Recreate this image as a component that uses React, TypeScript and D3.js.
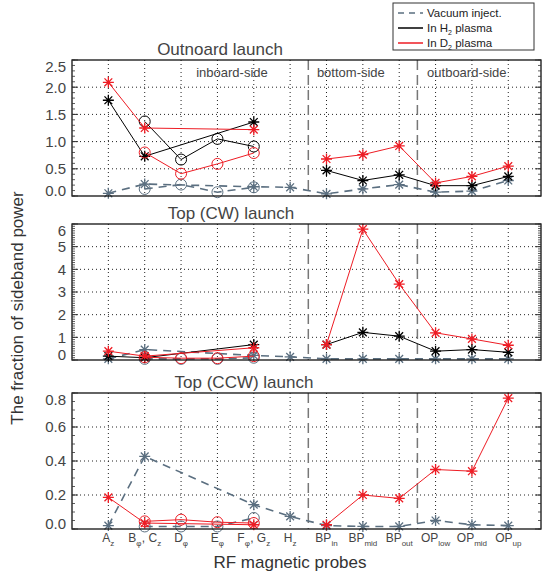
import React, { useRef, useEffect } from 'react'
import * as d3 from 'd3'

// probe labels: [base, subscript] pieces
const probeLabels: [string, string][][] = [
  [['A', 'z']],
  [['B', 'φ'], [', C', 'z']],
  [['D', 'φ']],
  [['E', 'φ']],
  [['F', 'φ'], [', G', 'z']],
  [['H', 'z']],
  [['BP', 'in']],
  [['BP', 'mid']],
  [['BP', 'out']],
  [['OP', 'low']],
  [['OP', 'mid']],
  [['OP', 'up']],
]

// Outboard launch
const outVacStar = [0.05, 0.22, null, null, 0.17, 0.16, 0.04, 0.13, 0.21, 0.07, 0.09, 0.285]
const outVacCirc = [null, 0.13, 0.21, 0.07, 0.16, null, null, null, null, null, null, null]
const outH2Star = [1.76, 0.73, null, null, 1.36, null, 0.47, 0.285, 0.39, 0.19, 0.19, 0.36]
const outH2Circ = [null, 1.37, 0.67, 1.05, 0.91, null, null, null, null, null, null, null]
const outD2Star = [2.09, 1.25, null, null, 1.22, null, 0.68, 0.76, 0.92, 0.24, 0.36, 0.55]
const outD2Circ = [null, 0.8, 0.41, 0.59, 0.79, null, null, null, null, null, null, null]

// Top (CW) launch
const cwVacStar = [0.05, 0.46, null, null, 0.2, 0.14, 0.05, 0.05, 0.05, 0.05, 0.05, 0.05]
const cwVacCirc = [null, 0.05, 0.05, 0.05, 0.1, null, null, null, null, null, null, null]
const cwH2Star = [0.17, 0.1, null, null, 0.68, null, 0.68, 1.22, 1.05, 0.39, 0.46, 0.34]
const cwD2Star = [0.39, 0.17, null, null, 0.54, null, 0.68, 5.77, 3.35, 1.2, 0.93, 0.65]
const cwD2Circ = [null, 0.12, 0.08, 0.08, 0.17, null, null, null, null, null, null, null]

// Top (CCW) launch
const ccwVacStar = [0.02, 0.427, null, null, 0.143, 0.074, 0.02, 0.015, 0.015, 0.05, 0.025, 0.02]
const ccwVacCirc = [null, 0.015, 0.015, 0.015, 0.065, null, null, null, null, null, null, null]
const ccwD2Star = [0.186, 0.035, null, null, 0.025, null, 0.025, 0.2, 0.18, 0.35, 0.34, 0.77]
const ccwD2Circ = [null, 0.045, 0.055, 0.04, 0.035, null, null, null, null, null, null, null]

const sideLabels = ['inboard-side', 'bottom-side', 'outboard-side']
const sideCenters = [3.4, 6.67, 9.86]
const dividers = [5.5, 8.5]

const VAC = '#5b6f80'
const H2 = '#000000'
const D2 = '#ee1c24'

type Series = { values: (number | null)[]; color: string; marker: 'star' | 'circle'; vac?: boolean }

const panels = [
  {
    title: 'Outnoard launch',
    titleX: 220,
    domain: [0, 2.5],
    ticks: [0, 0.5, 1, 1.5, 2, 2.5],
    fmt: '.1f',
    minor: 0.1,
    top: 60,
    series: [
      { values: outVacStar, color: VAC, marker: 'star', vac: true },
      { values: outVacCirc, color: VAC, marker: 'circle', vac: true },
      { values: outH2Star, color: H2, marker: 'star' },
      { values: outH2Circ, color: H2, marker: 'circle' },
      { values: outD2Star, color: D2, marker: 'star' },
      { values: outD2Circ, color: D2, marker: 'circle' },
    ] as Series[],
  },
  {
    title: 'Top (CW) launch',
    titleX: 231,
    domain: [0, 6],
    ticks: [0, 1, 2, 3, 4, 5, 6],
    fmt: 'd',
    minor: 0.1,
    top: 224,
    series: [
      { values: cwVacStar, color: VAC, marker: 'star', vac: true },
      { values: cwVacCirc, color: VAC, marker: 'circle', vac: true },
      { values: cwH2Star, color: H2, marker: 'star' },
      { values: cwD2Star, color: D2, marker: 'star' },
      { values: cwD2Circ, color: D2, marker: 'circle' },
    ] as Series[],
  },
  {
    title: 'Top (CCW) launch',
    titleX: 244,
    domain: [0, 0.8],
    ticks: [0, 0.2, 0.4, 0.6, 0.8],
    fmt: '.1f',
    minor: 0.05,
    top: 393,
    series: [
      { values: ccwVacStar, color: VAC, marker: 'star', vac: true },
      { values: ccwVacCirc, color: VAC, marker: 'circle', vac: true },
      { values: ccwD2Star, color: D2, marker: 'star' },
      { values: ccwD2Circ, color: D2, marker: 'circle' },
    ] as Series[],
  },
]

const FONT = '"Liberation Sans", Arial, Helvetica, sans-serif'

function starPath(r: number) {
  const p = d3.path()
  for (let k = 0; k < 4; k++) {
    const a = (k * Math.PI) / 4
    p.moveTo(-r * Math.cos(a), -r * Math.sin(a))
    p.lineTo(r * Math.cos(a), r * Math.sin(a))
  }
  return p.toString()
}

export default function App() {
  const svgRef = useRef<SVGSVGElement>(null)

  useEffect(() => {
    const svg = d3.select(svgRef.current)
    svg.selectAll('*').remove()

    const left = 72
    const right = 541
    const panelH = 136
    const x = d3.scaleLinear().domain([-1, 11.9]).range([left, right])
    const idx = d3.range(probeLabels.length)

    panels.forEach((pn, pi) => {
      const y = d3.scaleLinear().domain(pn.domain).range([pn.top + panelH, pn.top])
      const g = svg.append('g')

      // vertical dotted grid
      g.selectAll('line.vg')
        .data(idx)
        .join('line')
        .attr('x1', (d) => x(d))
        .attr('x2', (d) => x(d))
        .attr('y1', pn.top)
        .attr('y2', pn.top + panelH)
        .attr('stroke', '#222')
        .attr('stroke-dasharray', '1 3')

      // horizontal dotted grid
      g.selectAll('line.hg')
        .data(pn.ticks.slice(1, -1))
        .join('line')
        .attr('x1', left)
        .attr('x2', right)
        .attr('y1', (d) => y(d))
        .attr('y2', (d) => y(d))
        .attr('stroke', '#222')
        .attr('stroke-dasharray', '1 3')

      // region dividers
      g.selectAll('line.div')
        .data(dividers)
        .join('line')
        .attr('x1', (d) => x(d))
        .attr('x2', (d) => x(d))
        .attr('y1', pn.top)
        .attr('y2', pn.top + panelH)
        .attr('stroke', '#777')
        .attr('stroke-width', 1.5)
        .attr('stroke-dasharray', '10 5')

      // series
      pn.series.forEach((s) => {
        const pts = s.values
          .map((v, i) => ({ i, v }))
          .filter((d) => d.v != null) as { i: number; v: number }[]
        const groups = s.vac
          ? [pts]
          : [pts.filter((d) => d.i < 5.5), pts.filter((d) => d.i > 5.5)]
        const line = d3
          .line<{ i: number; v: number }>()
          .x((d) => x(d.i))
          .y((d) => y(d.v))
        groups.forEach((gr) => {
          if (gr.length < 2) return
          g.append('path')
            .attr('d', line(gr))
            .attr('fill', 'none')
            .attr('stroke', s.color)
            .attr('stroke-width', s.vac ? 1.6 : 1)
            .attr('stroke-dasharray', s.vac ? '8 6' : null)
        })
        pts.forEach((d) => {
          if (s.marker === 'star') {
            g.append('path')
              .attr('transform', `translate(${x(d.i)},${y(d.v)})`)
              .attr('d', starPath(5.5))
              .attr('stroke', s.color)
              .attr('stroke-width', 1.3)
              .attr('fill', 'none')
          } else {
            g.append('circle')
              .attr('cx', x(d.i))
              .attr('cy', y(d.v))
              .attr('r', 5.5)
              .attr('stroke', s.color)
              .attr('stroke-width', 1)
              .attr('fill', 'none')
          }
        })
      })

      // frame
      g.append('rect')
        .attr('x', left)
        .attr('y', pn.top)
        .attr('width', right - left)
        .attr('height', panelH)
        .attr('fill', 'none')
        .attr('stroke', '#111')
        .attr('stroke-width', 1.3)

      // minor & major ticks on left/right
      const minorTicks = d3.range(pn.domain[0], pn.domain[1] + 1e-9, pn.minor)
      ;[left, right].forEach((ax) => {
        const dir = ax === left ? 1 : -1
        g.selectAll(null)
          .data(minorTicks)
          .join('line')
          .attr('x1', ax)
          .attr('x2', ax + dir * 3)
          .attr('y1', (d) => y(d))
          .attr('y2', (d) => y(d))
          .attr('stroke', '#333')
          .attr('stroke-width', 0.8)
        g.selectAll(null)
          .data(pn.ticks)
          .join('line')
          .attr('x1', ax)
          .attr('x2', ax + dir * 6)
          .attr('y1', (d) => y(d))
          .attr('y2', (d) => y(d))
          .attr('stroke', '#333')
      })

      // tick labels (kept inside the frame's height like the original)
      const fmt = d3.format(pn.fmt)
      g.selectAll('text.yt')
        .data(pn.ticks)
        .join('text')
        .attr('x', left - 6)
        .attr('y', (d) => Math.min(Math.max(y(d), pn.top + 7), pn.top + panelH - 5))
        .attr('dy', '0.36em')
        .attr('text-anchor', 'end')
        .attr('font-family', FONT)
        .attr('font-size', 15)
        .attr('fill', '#444')
        .text((d) => fmt(d))

      // title
      g.append('text')
        .attr('x', pn.titleX)
        .attr('y', pn.top - 5)
        .attr('text-anchor', 'middle')
        .attr('font-family', FONT)
        .attr('font-size', 17)
        .attr('fill', '#444')
        .text(pn.title)

      if (pi === 0) {
        g.selectAll('text.side')
          .data(sideLabels)
          .join('text')
          .attr('x', (_, k) => x(sideCenters[k]))
          .attr('y', pn.top + 17)
          .attr('text-anchor', 'middle')
          .attr('font-family', FONT)
          .attr('font-size', 13)
          .attr('fill', '#444')
          .text((d) => d)
      }

      if (pi === panels.length - 1) {
        const lab = g
          .selectAll('text.xt')
          .data(probeLabels)
          .join('text')
          .attr('x', (_, i) => x(i))
          .attr('y', pn.top + panelH + 13)
          .attr('text-anchor', 'middle')
          .attr('font-family', FONT)
          .attr('font-size', 12)
          .attr('fill', '#444')
        lab.each(function (parts) {
          const t = d3.select(this)
          parts.forEach(([b, s]) => {
            t.append('tspan').attr('dy', 0).text(b)
            t.append('tspan').attr('font-size', 8).attr('dy', 4).text(s)
            t.append('tspan').attr('font-size', 1).attr('dy', -4).text(' ')
          })
        })
      }
    })

    // axis titles
    svg.append('text')
      .attr('transform', `translate(23,${308}) rotate(-90)`)
      .attr('text-anchor', 'middle')
      .attr('font-family', FONT)
      .attr('font-size', 17)
      .attr('fill', '#333')
      .text('The fraction of sideband power')

    svg.append('text')
      .attr('x', 290)
      .attr('y', 568)
      .attr('text-anchor', 'middle')
      .attr('font-family', FONT)
      .attr('font-size', 17)
      .attr('fill', '#333')
      .text('RF magnetic probes')

    // legend
    const lg = svg.append('g').attr('transform', 'translate(393,3)')
    lg.append('rect')
      .attr('width', 141)
      .attr('height', 47)
      .attr('fill', '#fff')
      .attr('stroke', '#333')
    const items = [
      { label: ['Vacuum inject.', ''], color: VAC, dash: '6 5' },
      { label: ['In H', '2', ' plasma'], color: H2, dash: null },
      { label: ['In D', '2', ' plasma'], color: D2, dash: null },
    ]
    items.forEach((it, k) => {
      const yy = 10 + k * 15
      lg.append('line')
        .attr('x1', 5)
        .attr('x2', 30)
        .attr('y1', yy)
        .attr('y2', yy)
        .attr('stroke', it.color)
        .attr('stroke-width', 1.5)
        .attr('stroke-dasharray', it.dash)
      const t = lg.append('text')
        .attr('x', 34)
        .attr('y', yy + 4)
        .attr('font-family', FONT)
        .attr('font-size', 11.5)
        .attr('fill', '#222')
      t.append('tspan').text(it.label[0])
      if (it.label[1]) {
        t.append('tspan').attr('font-size', 7).attr('dy', 3).text(it.label[1])
        t.append('tspan').attr('dy', -3).text(it.label[2])
      }
    })
  }, [])

  return (
    <svg
      ref={svgRef}
      width={542}
      height={574}
      style={{ position: 'absolute', left: 0, top: 0, background: '#fff' }}
    />
  )
}
